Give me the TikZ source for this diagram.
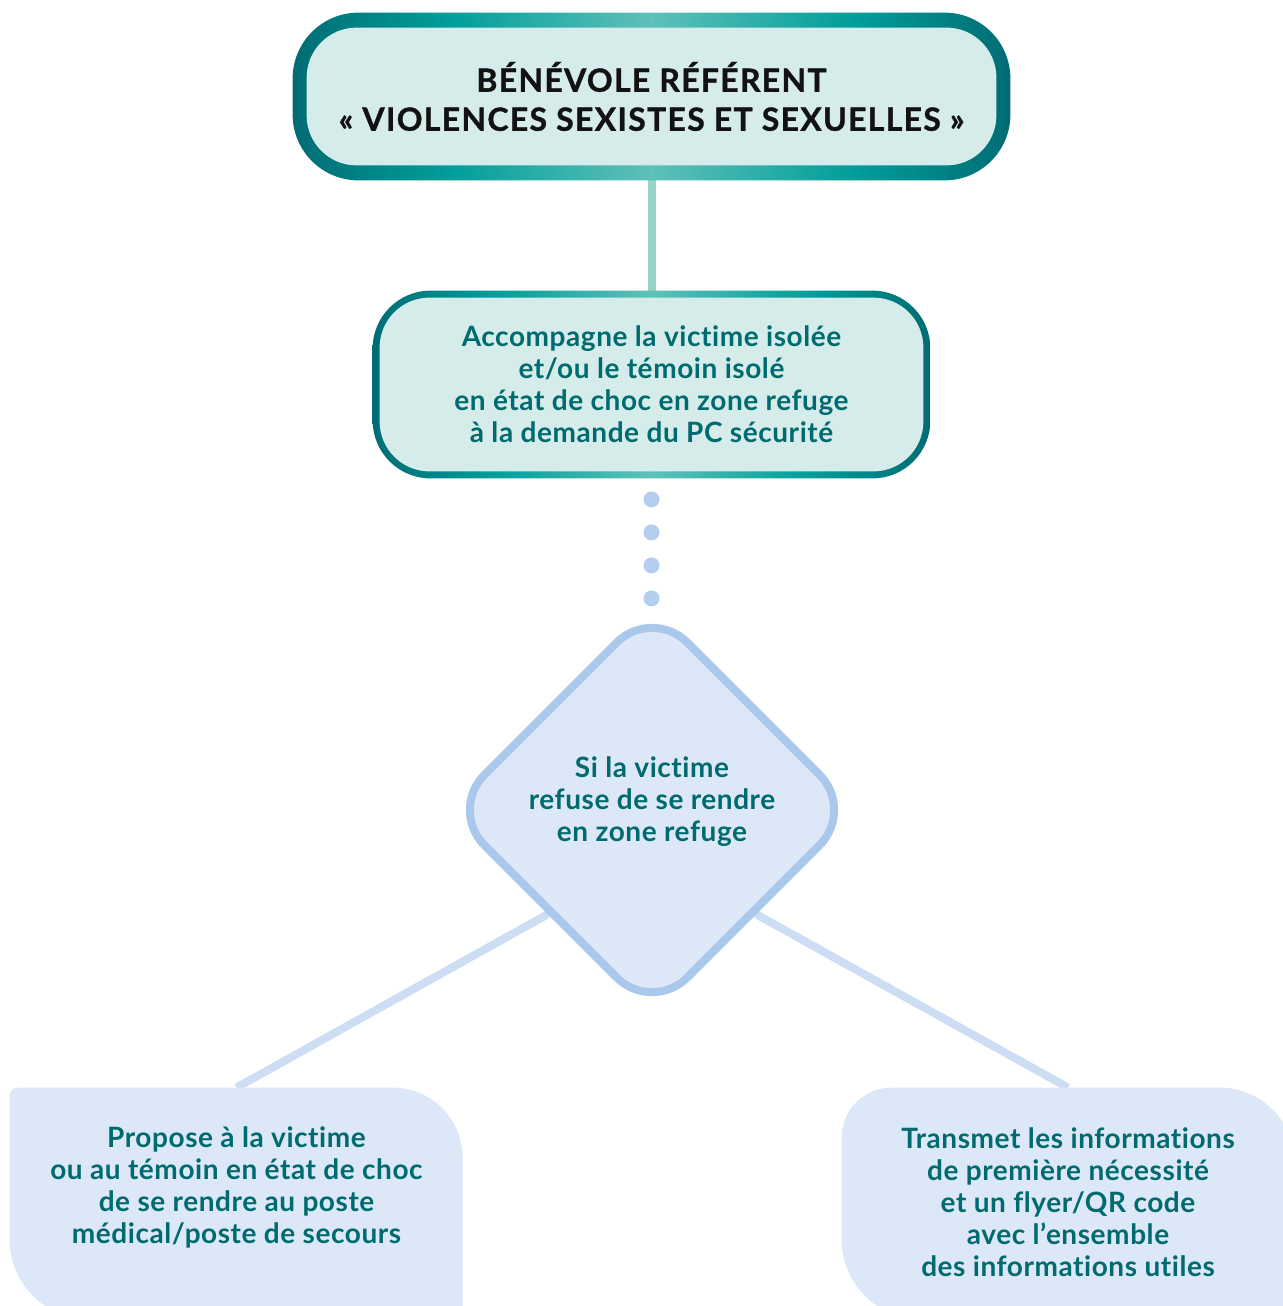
\documentclass[tikz,border=0pt]{standalone}
\usepackage{fontspec}
\setmainfont{Lato}
\newfontfamily\bodyfont[LetterSpace=2, Ligatures={NoCommon}]{Lato}
\newfontfamily\titlefont[LetterSpace=4, BoldFeatures={FakeBold=1}]{Lato}
\usepackage{tikz}
\usetikzlibrary{shapes.geometric,backgrounds}
\definecolor{tealtext}{HTML}{006B6E}
\definecolor{tealdark}{HTML}{006C74}
\definecolor{tealmid}{HTML}{009E9B}
\definecolor{teallight}{HTML}{5FC1B9}
\definecolor{mintfill}{HTML}{D5ECEA}
\definecolor{mintlink}{HTML}{97D2C7}
\definecolor{bluefill}{HTML}{DCE7F7}
\definecolor{blueline}{HTML}{A9C8EB}
\definecolor{bluelink}{HTML}{CCDDF4}
\definecolor{bluedot}{HTML}{B3CEEE}
\pgfdeclarehorizontalshading{tealband}{100bp}{color(0bp)=(tealdark); color(25bp)=(tealdark); color(36bp)=(tealmid); color(50bp)=(teallight); color(64bp)=(tealmid); color(75bp)=(tealdark); color(100bp)=(tealdark)}
\tikzstyle{titlebox} = [rectangle, align=center, inner sep=0pt, minimum width=344.5pt, minimum height=68.5pt, text=black!93, font=\titlefont\bfseries\fontsize{16}{19.5}\selectfont]
\tikzstyle{stepbox} = [rectangle, align=center, inner sep=0pt, minimum width=271.5pt, minimum height=86.5pt, text=tealtext, font=\bodyfont\bfseries\fontsize{14}{16}\selectfont]
\tikzstyle{decision} = [diamond, draw=blueline, fill=bluefill, line width=4pt, rounded corners=25pt, minimum width=204.5pt, minimum height=204.5pt, inner sep=0pt, text depth=11pt, align=center, text=tealtext, font=\bodyfont\bfseries\fontsize{14}{16}\selectfont]
\tikzstyle{outcome} = [rectangle, align=center, inner sep=0pt, text=tealtext, font=\bodyfont\bfseries\fontsize{14}{16}\selectfont]
\tikzstyle{link} = [draw, line width=4pt]

\begin{document}
\begin{tikzpicture}[x=0.5pt, y=-0.5pt]
    \useasboundingbox (0,0) rectangle (1282,1306);

    % Nodes
    \node [titlebox] (referent) at (651.5,96.5) {BÉNÉVOLE RÉFÉRENT\\«~VIOLENCES SEXISTES ET SEXUELLES~»};
    \node [stepbox] (accompagne) at (651.5,384.5) {Accompagne la victime isolée\\et/ou le témoin isolé\\en état de choc en zone refuge\\à la demande du PC sécurité};
    \node [decision] (refus) at (652,810) {Si la victime\\refuse de se rendre\\en zone refuge};
    \node [outcome, minimum width=226.5pt, minimum height=99pt] (propose) at (236.5,1187) {Propose à la victime\\ou au témoin en état de choc\\de se rendre au poste\\médical/poste de secours};
    \node [outcome, minimum width=226pt, minimum height=114pt] (transmet) at (1068,1202) {Transmet les informations\\de première nécessité\\et un flyer/QR code\\avec l’ensemble\\des informations utiles};

    % dots
    \foreach \d in {0,...,3}
        \fill [bluedot] (accompagne.south) ++(0,{28+33*\d}) circle (4pt);

    \begin{pgfonlayer}{background}
        % links
        \draw [link, mintlink] (referent.south) -- (accompagne.north);
        \draw [link, bluelink] (refus.south west) -- (propose.north);
        \draw [link, bluelink] (refus.south east) -- (transmet.north);

        % frames
        \shade [shading=tealband, rounded corners=33pt] ([shift={(-14,-15)}]referent.north west) rectangle ([shift={(14,15)}]referent.south east);
        \fill [mintfill, rounded corners=25pt] (referent.north west) rectangle (referent.south east);
        \shade [shading=tealband, rounded corners=29pt] ([shift={(-7,-7)}]accompagne.north west) rectangle ([shift={(7,7)}]accompagne.south east);
        \fill [mintfill, rounded corners=25pt] (accompagne.north west) rectangle (accompagne.south east);

        % bottom boxes
        \fill [bluefill] (propose.north west) ++(0,8) .. controls +(0,-4) and +(-4,0) .. ++(8,-8)
            -- ++(375,0) .. controls +(38.6,0) and +(0,-38.6) .. ++(70,70)
            -- ++(0,162) -- ++(-373,0) .. controls +(-44,0) and +(0,44) .. ++(-80,-80) -- cycle;
        \fill [bluefill] (transmet.north west) ++(0,50) .. controls +(0,-27.6) and +(-27.6,0) .. ++(50,-50)
            -- ++(328,0) .. controls +(41.4,0) and +(0,-41.4) .. ++(75,75)
            -- ++(0,157) -- ++(-373,0) .. controls +(-44,0) and +(0,44) .. ++(-80,-80) -- cycle;
    \end{pgfonlayer}
\end{tikzpicture}
\end{document}
